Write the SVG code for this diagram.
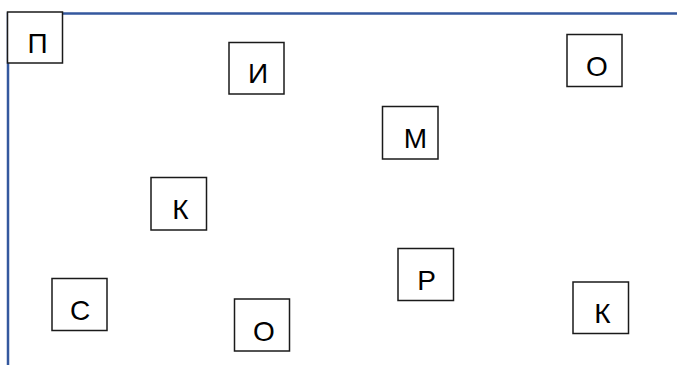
<svg xmlns="http://www.w3.org/2000/svg" width="677" height="365" viewBox="0 0 677 365">
<style>
.b{fill:#fff;stroke:#1a1a1a;stroke-width:1.5}
.t{font-family:"Liberation Sans",Arial,sans-serif;font-size:28px;fill:#000;text-anchor:middle}
.ln{stroke:#34589E;stroke-width:2.5;fill:none}
</style>
<rect width="677" height="365" fill="#fff"/>
<g id="connectors">
<path class="ln" d="M8,365 V13.5 H677"/>
</g>
<g id="n1"><rect class="b" x="7.5" y="12" width="55" height="51"/><text class="t" x="37.5" y="52.5">П</text></g>
<g id="n2"><rect class="b" x="229" y="42.5" width="55" height="51.5"/><text class="t" x="258" y="82.5">И</text></g>
<g id="n3"><rect class="b" x="382.5" y="106.5" width="55.5" height="52.5"/><text class="t" x="415.5" y="147.5">М</text></g>
<g id="n4"><rect class="b" x="567" y="34.5" width="55" height="52"/><text class="t" x="597" y="76">О</text></g>
<g id="n5"><rect class="b" x="151" y="177.5" width="55.5" height="52.5"/><text class="t" x="180.5" y="219">К</text></g>
<g id="n6"><rect class="b" x="52" y="278.5" width="55" height="52"/><text class="t" x="80" y="319.5">С</text></g>
<g id="n7"><rect class="b" x="234.5" y="299" width="55" height="52"/><text class="t" x="264" y="340.5">О</text></g>
<g id="n8"><rect class="b" x="398" y="248.5" width="55.5" height="52"/><text class="t" x="426.5" y="290">Р</text></g>
<g id="n9"><rect class="b" x="573" y="282" width="55.5" height="51.5"/><text class="t" x="602.5" y="322.5">К</text></g>
</svg>
